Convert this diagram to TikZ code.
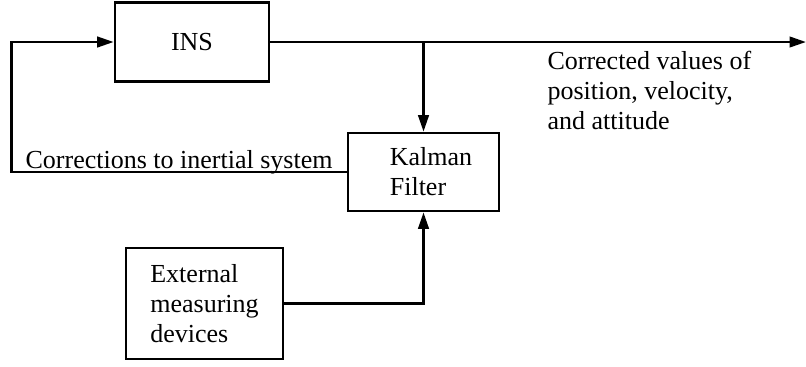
\documentclass[tikz,border=0pt]{standalone}
\usepackage{fontspec}
\setmainfont{Liberation Serif}
\usepackage{tikz}
\usetikzlibrary{arrows.meta,positioning,calc}

\begin{document}
\begin{tikzpicture}[font=\fontsize{14.8}{17}\selectfont,
  box/.style={draw,line width=1.5pt,align=left,inner sep=0pt},
  lbl/.style={align=left,inner sep=0pt},
  arr/.style={-{Triangle[length=0.33cm,width=0.21cm]},line width=1.5pt}]
\useasboundingbox (0,0) rectangle (16.12,-7.32);
\node[box,minimum width=3.08cm,minimum height=1.58cm] (ins) at (3.84,-0.84) {INS};
\node[box,minimum width=3.02cm,minimum height=1.56cm] (kf) at (8.47,-3.44) {\hspace*{0.3cm}Kalman\\\hspace*{0.3cm}Filter};
\node[box,minimum width=3.14cm,minimum height=2.22cm] (ext) at (4.09,-6.07) {External\\measuring\\devices};
\coordinate (out) at (16.12,-0.84);
\coordinate (fb) at (0.23,-3.44);
% INS output and tap to the filter
\draw[arr] (ins.east) -- node[lbl,anchor=north west,pos=0.515,yshift=-0.16cm]{Corrected values of\\position, velocity,\\and attitude} (out);
\draw[arr] (kf.north |- ins.east) -- (kf.north);
% feedback to INS
\draw[arr] (kf.west) -- node[lbl,anchor=base,yshift=0.08cm]{Corrections to inertial system} (fb) |- (ins.west);
\draw[arr] (ext.east) -| (kf.south);
\end{tikzpicture}
\end{document}
